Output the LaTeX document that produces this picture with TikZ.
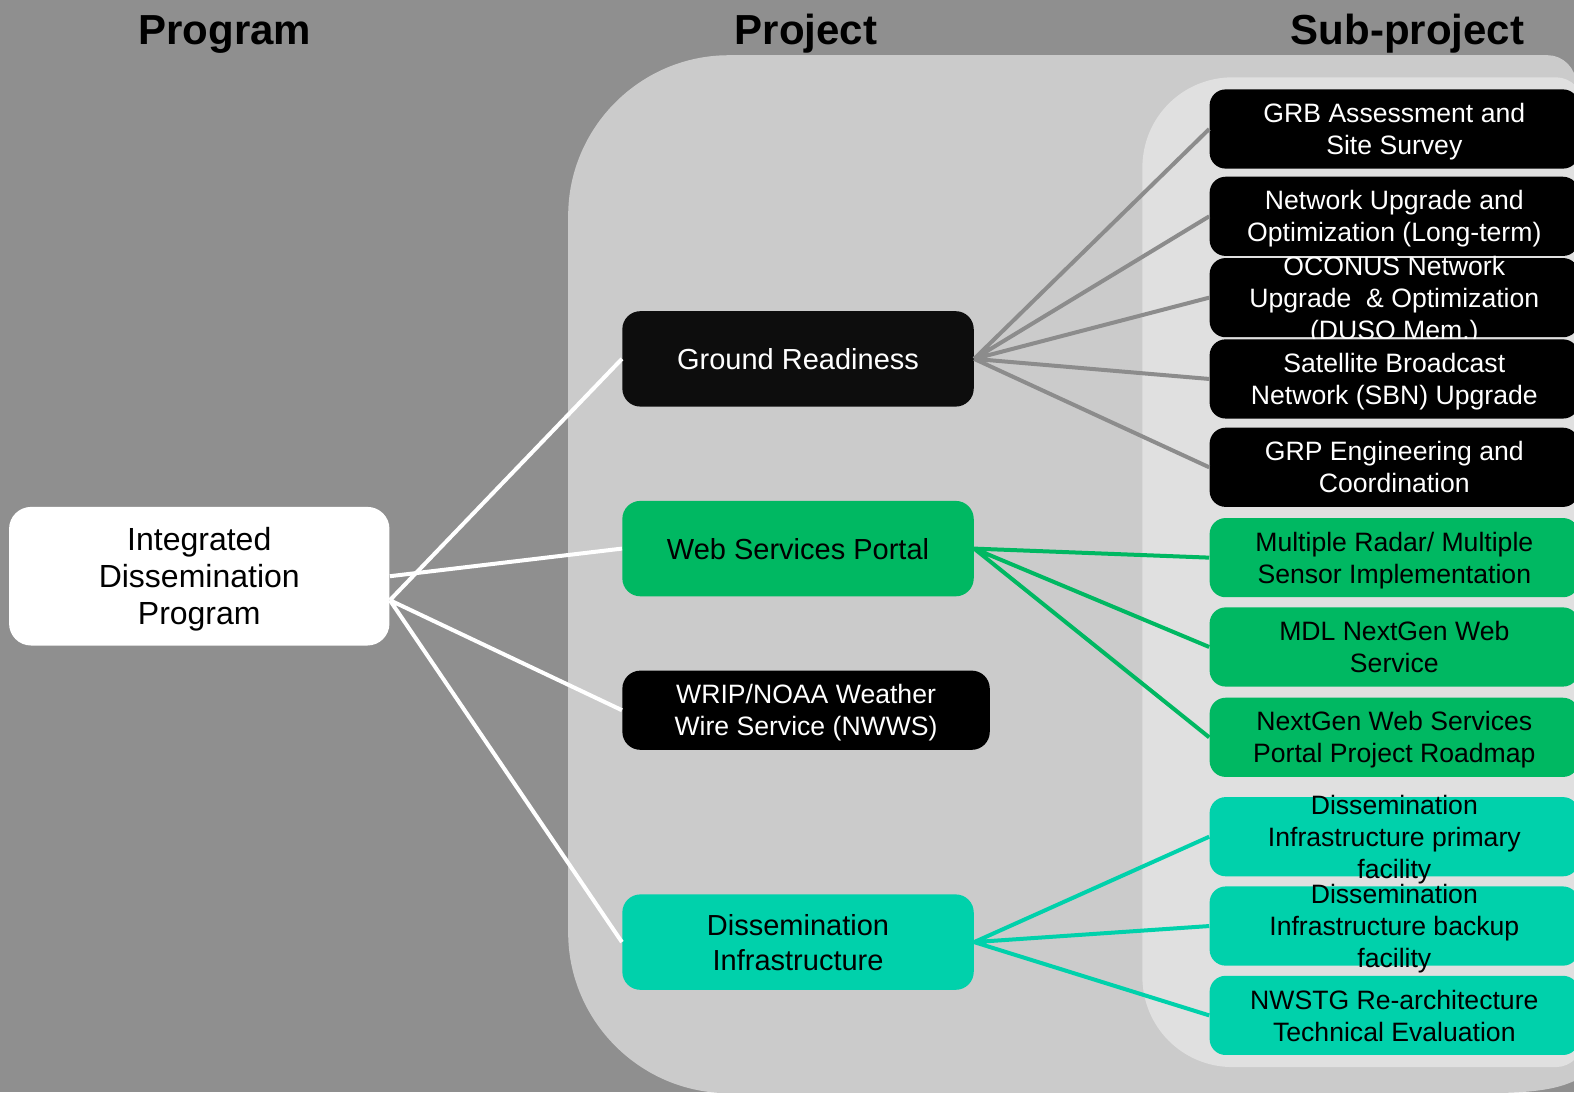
\documentclass[tikz,border=0pt]{standalone}
\usepackage{fontspec}
\setmainfont{Liberation Sans}
\definecolor{bgdark}{RGB}{143,143,143}
\definecolor{projgray}{RGB}{203,203,203}
\definecolor{subgray}{RGB}{224,224,224}
\definecolor{nearblack}{RGB}{13,13,13}
\definecolor{webgreen}{RGB}{0,184,98}
\definecolor{infteal}{RGB}{0,209,171}
\definecolor{linegray}{RGB}{140,140,140}
\begin{document}
\begin{tikzpicture}[x=0.50191pt,y=-0.50191pt,
  lines/.style={align=center,text depth=-1pt},
  box/.style={lines,rounded corners=9pt,inner sep=0pt},
  progbox/.style={box,fill=white,minimum width=190.2pt,minimum height=69.3pt,rounded corners=11pt,font=\fontsize{16}{18.5}\selectfont},
  projbox/.style={box,minimum width=175.7pt,minimum height=47.7pt,font=\fontsize{14.5}{17.5}\selectfont},
  subbox/.style={box,minimum width=184.7pt,minimum height=39.6pt,rounded corners=8pt,text depth=-2.5pt,font=\fontsize{13.3}{16}\selectfont},
  subtext/.style={lines,text depth=-2.5pt,font=\fontsize{13.3}{16}\selectfont},
  title/.style={anchor=base,font=\fontsize{21}{25}\selectfont\bfseries},
  whiteline/.style={white,line width=2pt},
  fanline/.style={line width=2pt}]
\useasboundingbox (0,0) rectangle (1568,1088);
\fill[bgdark] (0,0) rectangle (1568,1088);
\fill[projgray] (566,215) .. controls (566,127) and (638,55) .. (726,55) -- (1542,55) .. controls (1557,55) and (1570,68) .. (1570,83) -- (1570,1076) .. controls (1549,1086) and (1524,1089) .. (1474,1089) -- (726,1089) .. controls (638,1089) and (566,1017) .. (566,929) -- cycle;
\fill[subgray] (1138,167) .. controls (1138,117) and (1178,77) .. (1228,77) -- (1550,77) .. controls (1565,77) and (1578,90) .. (1578,105) -- (1578,1035) .. controls (1578,1050) and (1565,1063) .. (1550,1063) -- (1228,1063) .. controls (1178,1063) and (1138,1023) .. (1138,973) -- cycle;

\node[title] (tprog) at (224,44) {Program};
\node[title] (tproj) at (803,44) {Project};
\node[title] (tsub) at (1402,44) {Sub-project};

\node[progbox] (prog) at (198.5,574) {Integrated\\Dissemination\\Program};

\node[projbox,fill=nearblack,text=white] (gr) at (795,357.5) {Ground Readiness};
\node[projbox,fill=webgreen] (ws) at (795,546.5) {Web Services Portal};
\node[projbox,fill=black,text=white,minimum width=183.7pt,minimum height=39.6pt,text depth=-2.5pt,font=\fontsize{13.3}{16}\selectfont] (wrip) at (803,707.5) {WRIP/NOAA Weather\\Wire Service (NWWS)};
\node[projbox,fill=infteal] (di) at (795,938.5) {Dissemination\\Infrastructure};

\node[subbox,fill=black,text=white] (s1) at (1389,128.5) {GRB Assessment and\\Site Survey};
\node[subbox,fill=black,text=white] (s2) at (1389,215.5) {Network Upgrade and\\Optimization (Long-term)};
\node[subbox,fill=black,label={[subtext,white]center:{OCONUS Network\\Upgrade~ \& Optimization\\(DUSO Mem.)}}] (s3) at (1389,296.5) {};
\node[subbox,fill=black,text=white] (s4) at (1389,377.5) {Satellite Broadcast\\Network (SBN) Upgrade};
\node[subbox,fill=black,text=white] (s5) at (1389,465.5) {GRP Engineering and\\Coordination};
\node[subbox,fill=webgreen] (s6) at (1389,555.5) {Multiple Radar/ Multiple\\Sensor Implementation};
\node[subbox,fill=webgreen] (s7) at (1389,644.5) {MDL NextGen Web\\Service};
\node[subbox,fill=webgreen] (s8) at (1389,734.5) {NextGen Web Services\\Portal Project Roadmap};
\node[subbox,fill=infteal,label={[subtext]center:{Dissemination\\Infrastructure primary\\facility}}] (s9) at (1389,833.5) {};
\node[subbox,fill=infteal,label={[subtext]center:{Dissemination\\Infrastructure backup\\facility}}] (s10) at (1389,922.5) {};
\node[subbox,fill=infteal] (s11) at (1389,1011.5) {NWSTG Re-architecture\\Technical Evaluation};

\coordinate (pfan) at ([yshift=-12pt]prog.east);
\draw[whiteline] (prog.east) -- (ws.west);
\draw[whiteline] (pfan) -- (gr.west) (pfan) -- (wrip.west) (pfan) -- (di.west);

\draw[fanline,linegray] (gr.east) -- (s1.west) (gr.east) -- (s2.west) (gr.east) -- (s3.west) (gr.east) -- (s4.west) (gr.east) -- (s5.west);
\draw[fanline,webgreen] (ws.east) -- (s6.west) (ws.east) -- (s7.west) (ws.east) -- (s8.west);
\draw[fanline,infteal] (di.east) -- (s9.west) (di.east) -- (s10.west) (di.east) -- (s11.west);
\end{tikzpicture}
\end{document}
